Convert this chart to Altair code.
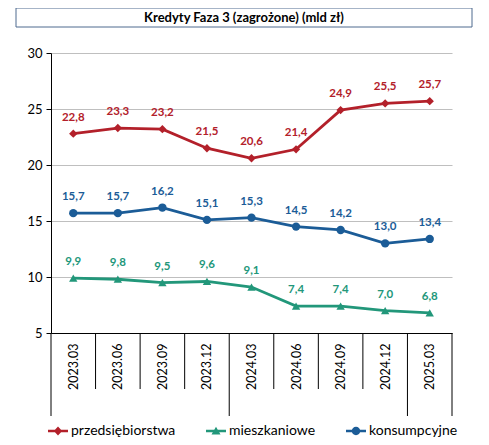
import json
import altair as alt
import pandas as pd

dates = ["2023.03", "2023.06", "2023.09", "2023.12", "2024.03",
         "2024.06", "2024.09", "2024.12", "2025.03"]
series_names = ["przedsiębiorstwa", "mieszkaniowe", "konsumpcyjne"]
przedsiebiorstwa = [22.8, 23.3, 23.2, 21.5, 20.6, 21.4, 24.9, 25.5, 25.7]
mieszkaniowe = [9.9, 9.8, 9.5, 9.6, 9.1, 7.4, 7.4, 7.0, 6.8]
konsumpcyjne = [15.7, 15.7, 16.2, 15.1, 15.3, 14.5, 14.2, 13.0, 13.4]
title_text = "Kredyty Faza 3 (zagrożone) (mld zł)"

colors = ["#B3202A", "#22977A", "#1B5C97"]
shapes = ["diamond", "triangle-up", "circle"]
bar = "M-1,-0.12H1V0.12H-1Z "
leg_paths = [
    bar + "M0,-0.45L0.42,0L0,0.45L-0.42,0Z",
    bar + "M0,-0.42L0.45,0.34H-0.45Z",
    bar + "M-0.42,0A0.42,0.42,0,1,1,0.42,0A0.42,0.42,0,1,1,-0.42,0Z",
]
FONT = "Lato"

rows = []
for name, vals in zip(series_names, [przedsiebiorstwa, mieszkaniowe, konsumpcyjne]):
    for i, (d, v) in enumerate(zip(dates, vals)):
        rows.append({"idx": i, "date": d, "series": name, "value": v})
df = pd.DataFrame(rows)

bounds = []
for i in range(len(dates) + 1):
    long = i == 0 or i == len(dates) or dates[i][:4] != dates[i - 1][:4]
    bounds.append({"b": i - 0.5, "long": long})
bdf = pd.DataFrame(bounds)

PW, PH = 401, 280
xscale = alt.Scale(domain=[-0.5, len(dates) - 0.5], nice=False, zero=False)
yscale = alt.Scale(domain=[5, 30], nice=False, zero=False)

label_expr = json.dumps(dates) + "[datum.value]"
xaxis = alt.Axis(values=list(range(len(dates))), labelExpr=label_expr, labelAngle=270,
                 ticks=False, grid=False, domainColor="black", title=None,
                 labelFontSize=12.5, labelColor="black", labelPadding=10, labelFont=FONT,
                 labelOverlap=False)
yaxis = alt.Axis(values=[5, 10, 15, 20, 25, 30], tickSize=5, tickColor="black",
                 domainColor="black", gridColor="#BFBFBF", labelFontSize=13,
                 labelColor="black", labelPadding=4, title=None, labelFont=FONT)

cscale = alt.Scale(domain=series_names, range=colors)

base = alt.Chart(df).encode(
    x=alt.X("idx:Q", scale=xscale, axis=xaxis),
    y=alt.Y("value:Q", scale=yscale, axis=yaxis),
    color=alt.Color("series:N", scale=cscale, legend=None),
)

lines = base.mark_line(strokeWidth=2.8)
points = base.mark_point(filled=True, opacity=1, size=70).encode(
    shape=alt.Shape("series:N", scale=alt.Scale(domain=series_names, range=shapes), legend=None)
)
labels = base.transform_calculate(
    lbl="replace(format(datum.value, '.1f'), '.', ',')"
).mark_text(dy=-16, fontSize=11.5, fontWeight="bold", font=FONT, baseline="middle").encode(
    text="lbl:N"
)

sep_short = alt.Chart(bdf).transform_filter("!datum.long").mark_rule(color="black", strokeWidth=1).encode(
    x=alt.X("b:Q", scale=xscale, axis=xaxis), y=alt.value(PH), y2=alt.value(PH + 56)
)
sep_long = alt.Chart(bdf).transform_filter("datum.long").mark_rule(color="black", strokeWidth=1).encode(
    x=alt.X("b:Q", scale=xscale, axis=xaxis), y=alt.value(PH), y2=alt.value(PH + 83)
)

legend = alt.Legend(orient="none", legendX=-3, legendY=368, direction="horizontal",
                    columns=3, symbolSize=400, labelFontSize=14, labelOffset=3,
                    columnPadding=30, title=None, padding=0, symbolStrokeWidth=0,
                    labelColor="black", symbolOpacity=1, labelFont=FONT)
legdf = pd.DataFrame({"leg": series_names})
leg_layer = alt.Chart(legdf).transform_filter("false").mark_point(filled=True, opacity=1).encode(
    color=alt.Color("leg:N", scale=alt.Scale(domain=series_names, range=colors), legend=legend),
    shape=alt.Shape("leg:N", scale=alt.Scale(domain=series_names, range=leg_paths), legend=legend),
)

tdf = pd.DataFrame({"t": [title_text]})
title_box = alt.Chart(tdf).mark_rect(fill="white", stroke="#4F6A8F", strokeWidth=1).encode(
    x=alt.value(-35), x2=alt.value(421), y=alt.value(-45), y2=alt.value(-26)
)
title_txt = alt.Chart(tdf).mark_text(fontSize=13, fontWeight="bold", font=FONT,
                                     color="black", baseline="middle").encode(
    x=alt.value(193), y=alt.value(-35.5), text="t:N"
)

chart = alt.layer(
    title_box, title_txt, sep_short, sep_long, lines, points, labels, leg_layer
).resolve_scale(color="independent", shape="independent").properties(
    width=PW, height=PH,
    autosize=alt.AutoSizeParams(type="none"),
    padding={"left": 43, "top": 45, "right": 28, "bottom": 104},
).configure_view(stroke=None)

chart.save("out.html", embed_options={"renderer": "svg", "actions": False})
